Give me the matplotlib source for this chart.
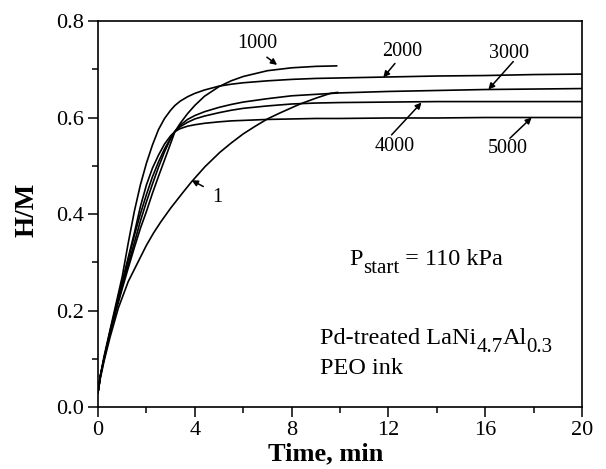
#!/usr/bin/env python
# coding=utf-8

import matplotlib
matplotlib.use("Agg")
import matplotlib.pyplot as plt
import numpy as np

plt.rcParams['font.family'] = ['Liberation Serif', 'DejaVu Serif']

# hydrogen uptake curves (time in min, H/M)
t_fast = [0, 0.1, 0.25, 0.5, 0.75, 1.0, 1.25, 1.5, 1.75, 2.0, 2.25, 2.5, 2.75, 3.0, 3.18,
          3.4, 3.7, 4.0, 4.4, 5.0, 5.5, 6, 7, 8, 9, 10, 12, 14, 16, 18, 20]
h_2000 = [0.03, 0.065, 0.105, 0.16, 0.215, 0.27, 0.34, 0.405, 0.46, 0.505, 0.543, 0.575, 0.598,
          0.615, 0.625, 0.634, 0.643, 0.650, 0.657, 0.665, 0.669, 0.672, 0.676, 0.679, 0.681,
          0.682, 0.684, 0.686, 0.687, 0.689, 0.690]
h_3000 = [0.03, 0.065, 0.10, 0.155, 0.205, 0.25, 0.295, 0.34, 0.385, 0.425, 0.462, 0.497, 0.529,
          0.556, 0.571, 0.584, 0.596, 0.604, 0.612, 0.621, 0.627, 0.632, 0.639, 0.645, 0.648,
          0.651, 0.654, 0.656, 0.658, 0.659, 0.660]
h_4000 = [0.03, 0.065, 0.10, 0.152, 0.2, 0.245, 0.288, 0.33, 0.37, 0.405, 0.443, 0.478, 0.512,
          0.546, 0.571, 0.581, 0.590, 0.597, 0.603, 0.610, 0.615, 0.619, 0.624, 0.628, 0.630,
          0.631, 0.632, 0.633, 0.633, 0.633, 0.633]
h_5000 = [0.03, 0.065, 0.10, 0.157, 0.21, 0.26, 0.31, 0.36, 0.415, 0.46, 0.495, 0.522, 0.545,
          0.562, 0.571, 0.577, 0.582, 0.585, 0.588, 0.591, 0.593, 0.594, 0.596, 0.597, 0.598,
          0.598, 0.599, 0.599, 0.600, 0.600, 0.600]

t_1000 = [0, 0.1, 0.25, 0.5, 0.75, 1.0, 1.25, 1.5, 1.75, 2.0, 2.25, 2.5, 2.75, 3.0, 3.18,
          3.4, 3.7, 4.0, 4.4, 5.0, 5.5, 6, 7, 8, 9, 9.86]
h_1000 = [0.03, 0.065, 0.10, 0.155, 0.205, 0.255, 0.305, 0.355, 0.40, 0.44, 0.477, 0.508, 0.535,
          0.557, 0.571, 0.588, 0.608, 0.625, 0.644, 0.664, 0.676, 0.685, 0.697, 0.703, 0.706, 0.707]

t_1 = [0, 0.1, 0.25, 0.5, 0.84, 1.25, 1.7, 2.0, 2.3, 2.6, 3.0, 3.5, 3.87, 4.42, 5.04, 5.5,
       6.0, 6.5, 7.0, 7.5, 8.35, 9.0, 9.6, 9.9]
h_1 = [0.03, 0.06, 0.095, 0.145, 0.205, 0.26, 0.305, 0.335, 0.361, 0.384, 0.412, 0.444, 0.467,
       0.498, 0.528, 0.547, 0.566, 0.582, 0.597, 0.609, 0.628, 0.640, 0.650, 0.652]

# curve labels: text, label centre, arrow tail, arrow tip
labels = ["1", "1000", "2000", "3000", "4000", "5000"]
label_xy = [(4.92, 0.435), (6.57, 0.754), (12.55, 0.736), (17.0, 0.733), (12.27, 0.540), (16.95, 0.536)]
tail_xy = [(4.35, 0.457), (6.98, 0.725), (12.27, 0.712), (17.16, 0.716), (12.13, 0.564), (17.02, 0.557)]
tip_xy = [(3.87, 0.470), (7.40, 0.709), (11.79, 0.683), (16.13, 0.658), (13.37, 0.631), (17.92, 0.600)]

FS = 17.5
SUB = 15
SUB_DY = -5.5


def rich_text(ax, x, y, parts):
    # parts: list of (string, is_subscript); chained left to right
    prev = ax.text(x, y, parts[0][0], fontsize=FS, ha="left", va="bottom")
    prev_sub = False
    for s, sub in parts[1:]:
        if sub and not prev_sub:
            dy = SUB_DY
        elif prev_sub and not sub:
            dy = -SUB_DY
        else:
            dy = 0
        prev = ax.annotate(s, xy=(1, 0), xycoords=prev, xytext=(0, dy),
                           textcoords="offset points", fontsize=SUB if sub else FS,
                           ha="left", va="bottom")
        prev_sub = sub


fig = plt.figure(figsize=(6.06, 4.69), dpi=100)
ax = fig.add_axes([0.1617, 0.1322, 0.7987, 0.823])

for t, h in [(t_fast, h_3000), (t_fast, h_4000), (t_fast, h_5000),
             (t_fast, h_2000), (t_1000, h_1000), (t_1, h_1)]:
    ax.plot(t, h, color="black", lw=1.2)

for txt, lxy, axy, txy in zip(labels, label_xy, tail_xy, tip_xy):
    ax.annotate("", xy=txy, xytext=axy,
                arrowprops=dict(arrowstyle="-|>", color="black", lw=1.1,
                                mutation_scale=9, shrinkA=0, shrinkB=0))
    ax.text(lxy[0], lxy[1], txt, fontsize=14.5, ha="center", va="center")

rich_text(ax, 10.4, 0.283, [("P", False), ("start", True), (" = 110 kPa", False)])
rich_text(ax, 9.17, 0.120, [("Pd-treated LaNi", False), ("4.7", True), ("Al", False), ("0.3", True)])
ax.text(9.17, 0.057, "PEO ink", fontsize=FS, ha="left", va="bottom")

ax.set_xlim(0, 20)
ax.set_ylim(0, 0.8)
ax.set_xticks(np.arange(0, 21, 4))
ax.set_xticks(np.arange(2, 20, 4), minor=True)
ax.set_yticks(np.arange(0, 0.81, 0.2))
ax.set_yticks(np.arange(0.1, 0.8, 0.2), minor=True)
ax.set_yticklabels(["%.1f" % v for v in np.arange(0, 0.81, 0.2)])
ax.tick_params(which="major", direction="out", length=7, width=1.1, labelsize=16, pad=3)
ax.tick_params(which="minor", direction="out", length=4, width=1.1)
ax.tick_params(top=False, right=False)
for s in ax.spines.values():
    s.set_linewidth(1.2)

ax.set_xlabel("Time, min", fontsize=19, fontweight="bold")
ax.xaxis.set_label_coords(0.471, -0.092)
ax.set_ylabel("H/M", fontsize=19.5, fontweight="bold")
ax.yaxis.set_label_coords(-0.12, 0.51)

fig.savefig("out.png", dpi=100)
